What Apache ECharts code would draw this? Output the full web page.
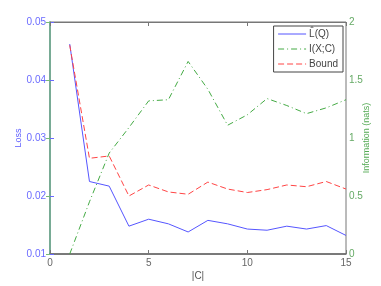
<!DOCTYPE html>
<html><head><meta charset="utf-8">
<script src="https://cdn.jsdelivr.net/npm/echarts@6/dist/echarts.min.js"></script>
<style>html,body{margin:0;padding:0;background:#fff}#c{width:381px;height:286px}</style>
</head><body><div id="c"></div>
<script>
var clusters = [1,2,3,4,5,6,7,8,9,10,11,12,13,14,15];
var lossQ = [0.0462,0.0225,0.0217,0.0148,0.0160,0.0152,0.0138,0.0158,0.0152,0.0143,0.0141,0.0148,0.0143,0.0149,0.0132];
var infoXC = [0.00,0.45,0.87,1.09,1.32,1.33,1.66,1.42,1.11,1.20,1.34,1.28,1.21,1.26,1.33];
var bound = [0.0460,0.0265,0.0269,0.0200,0.0219,0.0207,0.0203,0.0224,0.0212,0.0206,0.0211,0.0219,0.0216,0.0225,0.0212];
var xTicks = [0,5,10,15];
var leftTicks = [0.01,0.02,0.03,0.04,0.05];
var rightTicks = [0,0.5,1,1.5,2];
var names = ['L\u0302(Q)','I(X;C)','Bound'];

function pairs(ys){return clusters.map(function(x,i){return [x,ys[i]];});}
var font = 'Liberation Sans, Arial, sans-serif';
var chart = echarts.init(document.getElementById('c'));
chart.setOption({
  animation:false,
  grid:{left:50,right:35,top:22,bottom:32,show:true,borderColor:'#777',borderWidth:1,
        outerBoundsMode:'none',containLabel:false},
  legend:{
    right:38,top:26,orient:'vertical',itemWidth:28,itemHeight:8,itemGap:5,
    padding:[3,5,3,4],borderColor:'#444',borderWidth:1,backgroundColor:'#fff',borderRadius:0,
    textStyle:{fontSize:10,color:'#444',fontFamily:font,padding:[0,0,0,-2]},
    itemStyle:{opacity:0},lineStyle:{width:1},
    data:names
  },
  xAxis:[{
    type:'value',min:0,max:15,interval:5,position:'bottom',
    name:'|C|',nameLocation:'middle',nameGap:17,nameMoveOverlap:false,
    nameTextStyle:{fontSize:10,color:'#555',fontFamily:font},
    axisLine:{lineStyle:{color:'#666',width:1.5}},
    axisTick:{inside:true,length:4,lineStyle:{color:'#777'}},
    axisLabel:{fontSize:10,color:'#666',fontFamily:font,margin:4},
    splitLine:{show:false}
  },{
    type:'value',min:0,max:15,interval:5,position:'top',
    axisLine:{lineStyle:{color:'#777'}},
    axisTick:{inside:true,length:4,lineStyle:{color:'#777'}},
    axisLabel:{show:false},splitLine:{show:false}
  }],
  yAxis:[{
    type:'value',min:0.01,max:0.05,interval:0.01,position:'left',
    name:'Loss',nameLocation:'middle',nameGap:27,nameMoveOverlap:false,
    nameTextStyle:{fontSize:9,color:'#5a5aff',fontFamily:font},
    axisLine:{show:true,lineStyle:{color:'#6a6aff',width:1.5}},
    axisTick:{show:true,inside:true,length:4,lineStyle:{color:'#6a6aff'}},
    axisLabel:{fontSize:10,color:'#6a6aff',fontFamily:font,margin:4,
      formatter:function(v){return v.toFixed(2);}},
    splitLine:{show:false}
  },{
    type:'value',min:0,max:2,interval:0.5,position:'right',
    name:'Information (nats)',nameLocation:'middle',nameGap:16,nameMoveOverlap:false,
    nameTextStyle:{fontSize:9,color:'#55aa55',fontFamily:font},
    axisLine:{show:true,lineStyle:{color:'#77bb77',width:1.5}},
    axisTick:{show:true,inside:true,length:4,lineStyle:{color:'#77bb77'}},
    axisLabel:{fontSize:10,color:'#66aa66',fontFamily:font,margin:3,
      formatter:function(v){return String(v);}},
    splitLine:{show:false}
  }],
  series:[
    {name:names[0],type:'line',yAxisIndex:0,data:pairs(lossQ),showSymbol:false,symbol:'none',
     lineStyle:{color:'#5555ff',width:1},itemStyle:{color:'#5555ff'}},
    {name:names[1],type:'line',yAxisIndex:1,data:pairs(infoXC),showSymbol:false,symbol:'none',
     lineStyle:{color:'#44aa44',width:1,type:[6,3,1,3]},itemStyle:{color:'#44aa44'}},
    {name:names[2],type:'line',yAxisIndex:0,data:pairs(bound),showSymbol:false,symbol:'none',
     lineStyle:{color:'#ff4444',width:1,type:[6,3]},itemStyle:{color:'#ff4444'}}
  ]
});
</script></body></html>
